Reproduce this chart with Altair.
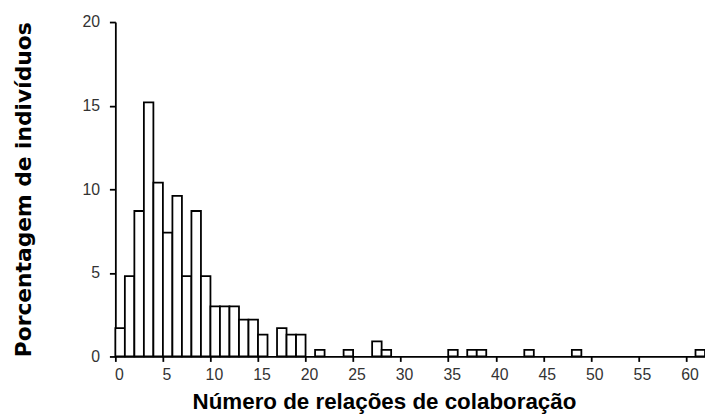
import altair as alt
import pandas as pd

# Histogram bins (left edge, width 1) and percentage of individuals
bin_start = [0, 1, 2, 3, 4, 5, 6, 7, 8, 9, 10, 11, 12, 13, 14, 15,
             17, 18, 19, 21, 24, 27, 28, 35, 37, 38, 43, 48, 61]
percentage = [1.7, 4.8, 8.7, 15.2, 10.4, 7.4, 9.6, 4.8, 8.7, 4.8, 3.0, 3.0, 3.0, 2.2, 2.2, 1.3,
              1.7, 1.3, 1.3, 0.4, 0.4, 0.9, 0.4, 0.4, 0.4, 0.4, 0.4, 0.4, 0.4]

x_ticks = [0, 5, 10, 15, 20, 25, 30, 35, 40, 45, 50, 55, 60]
y_ticks = [0, 5, 10, 15, 20]

df = pd.DataFrame({"inicio": bin_start, "pct": percentage})

chart = (
    alt.Chart(df)
    .transform_calculate(fim="datum.inicio + 1", base="0")
    .mark_bar(fill="white", stroke="black", strokeWidth=1.8)
    .encode(
        x=alt.X(
            "inicio:Q",
            scale=alt.Scale(domain=[0, 62], nice=False, zero=False),
            axis=alt.Axis(
                values=x_ticks,
                title="Número de relações de colaboração",
                grid=False,
                domainColor="black",
                domainWidth=1.8,
                tickColor="black",
                tickWidth=1.8,
                tickSize=5,
                labelPadding=5,
                labelOffset=3.5,
                labelFlush=False,
                labelOverlap=False,
                labelFont="Liberation Sans",
                labelFontSize=16,
                labelColor="#333333",
                titleFont="Liberation Sans",
                titleFontSize=22.6,
                titleFontWeight="bold",
                titleColor="black",
                titleX=271.5,
                titleY=52.3,
                titleAlign="center",
                titleBaseline="alphabetic",
            ),
        ),
        x2="fim:Q",
        y=alt.Y(
            "pct:Q",
            scale=alt.Scale(domain=[0, 20], nice=False),
            axis=alt.Axis(
                values=y_ticks,
                title="Porcentagem de indivíduos",
                grid=False,
                domainColor="black",
                domainWidth=1.8,
                tickColor="black",
                tickWidth=1.8,
                tickSize=6,
                labelPadding=10,
                labelFlush=False,
                labelOverlap=False,
                labelFont="Liberation Sans",
                labelFontSize=16,
                labelColor="#333333",
                titleFont="DejaVu Sans",
                titleFontSize=22,
                titleFontWeight="bold",
                titleColor="black",
                titleAngle=270,
                titleX=-85.5,
                titleY=169,
                titleAlign="center",
                titleBaseline="alphabetic",
            ),
        ),
        y2="base:Q",
    )
    .properties(
        width=596,
        height=338,
        autosize=alt.AutoSizeParams(type="none"),
        padding={"left": 108.5, "top": 12, "right": 0, "bottom": 60},
    )
    .configure_view(stroke=None)
)

chart.save("out.html", embed_options={"renderer": "svg", "actions": False})
